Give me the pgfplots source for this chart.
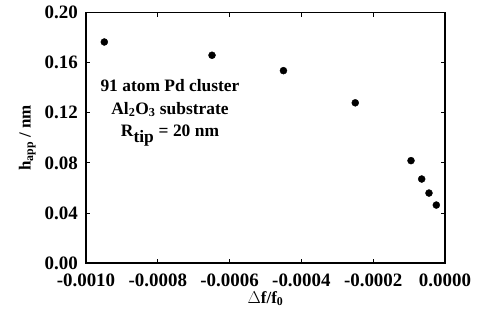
\documentclass[border=0pt]{standalone}
\usepackage{fontspec}
\setmainfont{Liberation Serif}
\usepackage{pgfplots}
\pgfplotsset{compat=1.18}
\begin{document}
\begin{tikzpicture}
\begin{axis}[
  scale only axis, width=359bp, height=250.3bp,
  xmin=-0.001, xmax=0, ymin=0, ymax=0.2,
  xtick={-0.001,-0.0008,-0.0006,-0.0004,-0.0002,0},
  ytick={0,0.04,0.08,0.12,0.16,0.2},
  scaled x ticks=false, scaled y ticks=false,
  tick label style={font=\fontsize{19}{20}\selectfont\bfseries, inner sep=0.5bp},
  xticklabel style={yshift=-10.5bp,/pgf/number format/.cd,fixed,fixed zerofill,precision=4,assume math mode=true},
  yticklabel style={xshift=-7.5bp,/pgf/number format/.cd,fixed,fixed zerofill,precision=2,assume math mode=true},
  tick align=inside, major tick length=4bp,
  every tick/.style={line width=0.8bp, black},
  axis line style={line width=1.3bp},
  xlabel={\fontsize{17}{18}\selectfont\bfseries $\Delta$f/f$_{\mathbf{0}}$},
  ylabel={\fontsize{17}{18}\selectfont\bfseries h$_{\mathbf{app}}$ / nm},
  xlabel style={yshift=0bp},
  ylabel style={yshift=5bp},
  clip=false,
]
\addplot[only marks, mark=*, mark size=3.5bp, black] coordinates {
(-0.000949,0.1766)
(-0.000649,0.1660)
(-0.000450,0.1537)
(-0.000250,0.1280)
(-0.0000947,0.0818)
(-0.0000649,0.0671)
(-0.0000446,0.0559)
(-0.0000242,0.0463)
};
\node[align=center, font=\fontsize{17.5}{22.5}\selectfont\bfseries] at (axis cs:-0.000766,0.1198)
  {91 atom Pd cluster\\Al$_{\mathbf 2}$O$_{\mathbf 3}$ substrate\\R$_{\textbf{tip}}$ = 20 nm};
\end{axis}
\pgfresetboundingbox
\useasboundingbox (-86bp,-63bp) rectangle (391bp,263bp);
\end{tikzpicture}
\end{document}
